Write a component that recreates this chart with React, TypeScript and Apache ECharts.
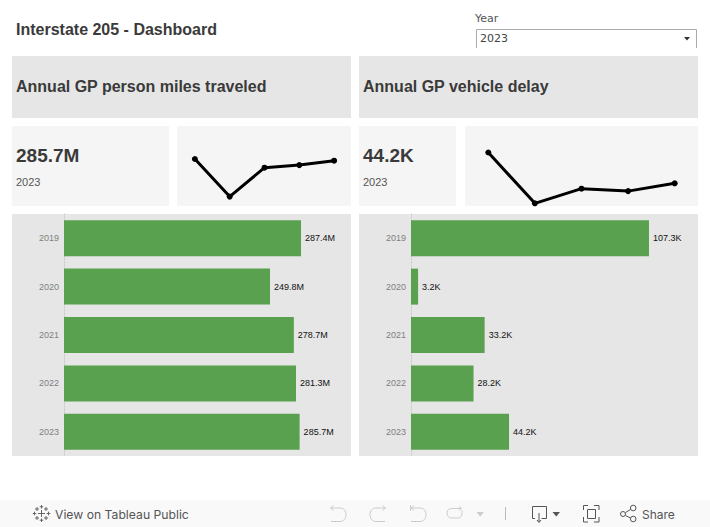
import React, { useEffect, useRef } from "react";
import * as echarts from "echarts";

const years = ["2019", "2020", "2021", "2022", "2023"];
const personMiles = [287.4, 249.8, 278.7, 281.3, 285.7];
const vehicleDelay = [107.3, 3.2, 33.2, 28.2, 44.2];
const selectedYear = "2023";
const dashboardTitle = "Interstate 205 - Dashboard";
const leftTitle = "Annual GP person miles traveled";
const rightTitle = "Annual GP vehicle delay";

const FONT = '"Liberation Sans", Arial, sans-serif';
const UI = 'Inter, "Noto Sans", sans-serif';
const GREEN = "#59A14F";
const PANEL = "#E6E6E6";
const KPI = "#F5F5F5";
const DARK = "#3A3A3A";

const icons: Record<string, string> = {
  tabLogo:
    "M41.5 510V517M38 513.5H45M37 507V511M35 509H39M46 507V511M44 509H48M37 516V520M35 518H39M46 516V520M44 518H48M41.5 505V508.5M39.7 506.8H43.3M41.5 518.5V522M39.7 520.2H43.3M34.5 511.7V515.3M32.8 513.5H36.3M48.5 511.7V515.3M46.7 513.5H50.3",
  undo: "M330.5 508H340C344 508 346 511 346 514.5C346 518 344 521.5 340 521.5H331M333.5 505.5L330.5 508L333.5 510.5",
  redo: "M385.5 508H376C372 508 370 511 370 514.5C370 518 372 521.5 376 521.5H385M382.5 505.5L385.5 508L382.5 510.5",
  revert: "M410.5 505V511M410.5 508H420C424 508 426 511 426 514.5C426 518 424 521.5 420 521.5H411M414 505.5L411 508L414 510.5",
  refresh: "M447 513C447 510 449 508.5 451.5 508.5H461.5M459 506.5L461.5 508.5L459 510.5M447 513C447 516 449 518 451.5 518H458C460.5 518 462 516 462 513V510.5",
  download: "M535 518.5H532.5V506.5H546.5V518.5H541.5M539 513V522M537 520L539 522.5L541 520",
  frame: "M583.5 510V505.5H588M594 505.5H599V510M599 517V522H594M588 522H583.5V517M587.5 509.5H595.5V518.5H587.5Z",
  share: "M625.5 512.5L630.5 509.5M625.5 515.5L630.5 518M625.5 514A2.5 2.5 0 1 1 620.5 514A2.5 2.5 0 1 1 625.5 514M636 508A2.8 2.8 0 1 1 630.4 508A2.8 2.8 0 1 1 636 508M636 519A2.8 2.8 0 1 1 630.4 519A2.8 2.8 0 1 1 636 519",
};
Object.entries(icons).forEach(([k, d]) => {
  echarts.graphic.registerShape(k, echarts.graphic.extendPath(d, {}));
});

const rect = (x: number, y: number, w: number, h: number, fill: string) => ({
  type: "rect",
  z: -10,
  shape: { x, y, width: w, height: h },
  style: { fill },
  silent: true,
});
const text = (x: number, y: number, t: string, font: string, fill: string, weight = "normal", size = 12) => ({
  type: "text",
  x,
  y,
  z: 5,
  style: { text: t, fill, fontFamily: font, fontSize: size, fontWeight: weight, textVerticalAlign: "middle", textBaseline: "middle" },
  silent: true,
});
const icon = (name: string, stroke: string) => ({
  type: name,
  x: 0,
  y: 0,
  z: 5,
  style: { fill: "none", stroke, lineWidth: 1 },
  silent: true,
});
const tri = (x: number, fill: string) => ({
  type: "polygon",
  z: 5,
  shape: { points: [[x, 512], [x + 7.5, 512], [x + 3.75, 516.5]] },
  style: { fill },
  silent: true,
});

const fmtM = (v: number) => `${v.toFixed(1)}M`;
const fmtK = (v: number) => `${v.toFixed(1)}K`;

const barSeries = (i: number, data: number[], fmt: (v: number) => string) => ({
  type: "bar",
  xAxisIndex: i,
  yAxisIndex: i,
  data,
  barWidth: 36,
  itemStyle: { color: GREEN },
  label: {
    show: true,
    position: "right",
    distance: 4,
    color: "#111111",
    fontFamily: FONT,
    fontSize: 9,
    formatter: (p: any) => fmt(p.value),
  },
  silent: true,
});
const lineSeries = (i: number, data: number[]) => ({
  type: "line",
  xAxisIndex: i,
  yAxisIndex: i,
  data,
  symbol: "circle",
  symbolSize: 6,
  clip: true,
  lineStyle: { color: "#000000", width: 3 },
  itemStyle: { color: "#000000" },
  silent: true,
});
const barY = (i: number) => ({
  gridIndex: i,
  type: "category",
  inverse: true,
  data: years,
  axisTick: { show: false },
  axisLine: { show: true, lineStyle: { color: "#C4C4C4", type: [1, 2], width: 1 } },
  axisLabel: { color: "#808080", fontFamily: FONT, fontSize: 9, margin: 5 },
});
const hiddenX = (i: number, max: number) => ({
  gridIndex: i,
  type: "value",
  min: 0,
  max,
  show: false,
  splitLine: { show: false },
});
const sparkX = (i: number) => ({ gridIndex: i, type: "category", data: years, show: false, boundaryGap: true });
const sparkY = (i: number, min: number, max: number) => ({
  gridIndex: i,
  type: "value",
  min,
  max,
  show: false,
  splitLine: { show: false },
});

export default function App() {
  const ref = useRef<HTMLDivElement>(null);
  useEffect(() => {
    const chart = echarts.init(ref.current!, undefined, { renderer: "svg" });
    const idx = years.indexOf(selectedYear);
    chart.setOption({
      animation: false,
      backgroundColor: "#FFFFFF",
      grid: [
        { left: 64, top: 214, width: 287, height: 242 },
        { left: 411, top: 214, width: 287, height: 242 },
        { left: 177.5, top: 126, width: 174, height: 80 },
        { left: 465, top: 126, width: 233, height: 80 },
      ],
      xAxis: [hiddenX(0, 348), hiddenX(1, 129.4), sparkX(2), sparkX(3)],
      yAxis: [barY(0), barY(1), sparkY(2, 240.4, 320.4), sparkY(3, -2.3, 161.6)],
      series: [
        barSeries(0, personMiles, fmtM),
        barSeries(1, vehicleDelay, fmtK),
        lineSeries(2, personMiles),
        lineSeries(3, vehicleDelay),
      ],
      graphic: {
        elements: [
          rect(12, 56, 339, 62, PANEL),
          rect(359, 56, 339, 62, PANEL),
          rect(12, 126, 157, 80, KPI),
          rect(177, 126, 174, 80, KPI),
          rect(359, 126, 97, 80, KPI),
          rect(465, 126, 233, 80, KPI),
          rect(12, 214, 339, 242, PANEL),
          rect(359, 214, 339, 242, PANEL),
          rect(0, 500, 710, 27, "#F9F9F9"),
          text(16, 29.5, dashboardTitle, FONT, DARK, "bold", 16),
          text(16, 86.5, leftTitle, FONT, DARK, "bold", 16),
          text(363, 86.5, rightTitle, FONT, DARK, "bold", 16),
          text(16, 155, fmtM(personMiles[idx]), FONT, DARK, "bold", 19),
          text(363, 155, fmtK(vehicleDelay[idx]), FONT, DARK, "bold", 19),
          text(16, 182, selectedYear, FONT, "#555555", "normal", 11),
          text(363, 182, selectedYear, FONT, "#555555", "normal", 11),
          text(475, 18, "Year", '"DejaVu Sans", sans-serif', "#555555", "normal", 11),
          text(480, 38, selectedYear, '"DejaVu Sans", sans-serif', "#444444", "normal", 11),
          {
            type: "polyline",
            z: 5,
            shape: { points: [[476.5, 48], [476.5, 29.5], [696.5, 29.5], [696.5, 48]] },
            style: { fill: "none", stroke: "#ABABAB", lineWidth: 1 },
            silent: true,
          },
          {
            type: "polygon",
            z: 5,
            shape: { points: [[684, 37], [690, 37], [687, 40.5]] },
            style: { fill: "#333333" },
            silent: true,
          },
          icon("tabLogo", "#666666"),
          text(55, 514, "View on Tableau Public", UI, "#555555", "normal", 12.2),
          icon("undo", "#CCCCCC"),
          icon("redo", "#CCCCCC"),
          icon("revert", "#CCCCCC"),
          icon("refresh", "#CCCCCC"),
          tri(476.5, "#CCCCCC"),
          {
            type: "line",
            z: 5,
            shape: { x1: 505.5, y1: 507, x2: 505.5, y2: 520 },
            style: { stroke: "#BBBBBB", lineWidth: 1 },
            silent: true,
          },
          icon("download", "#555555"),
          tri(552.5, "#555555"),
          icon("frame", "#555555"),
          icon("share", "#555555"),
          text(642, 514, "Share", UI, "#555555", "normal", 12),
        ],
      },
    });
    return () => chart.dispose();
  }, []);
  return <div ref={ref} style={{ position: "absolute", left: 0, top: 0, width: 710, height: 527 }} />;
}
